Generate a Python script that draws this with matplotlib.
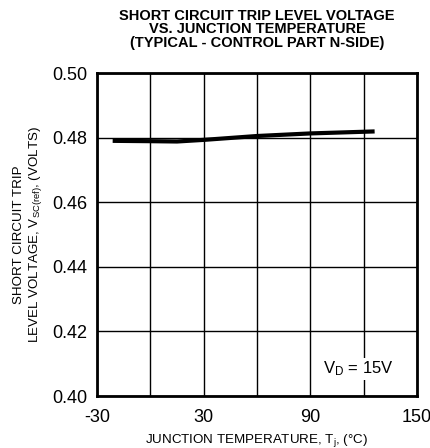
import matplotlib.pyplot as plt

# Données
temp = [-20, 0, 15, 30, 60, 90, 125]
volts = [0.4790, 0.4789, 0.4788, 0.4793, 0.4805, 0.4813, 0.4819]

x_ticks = [-30, 30, 90, 150]
x_grid = [-30, 0, 30, 60, 90, 120, 150]
y_ticks = [0.40, 0.42, 0.44, 0.46, 0.48, 0.50]

plt.rcParams['font.family'] = ['Liberation Sans', 'DejaVu Sans']
plt.rcParams['axes.unicode_minus'] = False

fig = plt.figure(figsize=(4.31, 4.48), dpi=100)
ax = fig.add_axes([0.225, 0.116, 0.7425, 0.721])

# Grille
for gx in x_grid:
    ax.axvline(gx, color='black', linewidth=1.0, zorder=1)
for gy in y_ticks:
    ax.axhline(gy, color='black', linewidth=1.0, zorder=1)

# Courbe
ax.plot(temp, volts, color='black', linewidth=3.0, zorder=3)

ax.set_xlim(-30, 150)
ax.set_ylim(0.40, 0.50)
ax.set_xticks(x_ticks)
ax.set_xticklabels([str(t) for t in x_ticks])
ax.set_yticks(y_ticks)
ax.set_yticklabels([f'{v:.2f}' for v in y_ticks])
ax.tick_params(labelsize=13, length=0)
ax.tick_params(axis='y', pad=7)
ax.tick_params(axis='x', pad=9)
for s in ax.spines.values():
    s.set_linewidth(2)

ax.text(117, 0.4084, '$\\mathregular{V_D}$ = 15V', ha='center', va='center', fontsize=12,
        bbox=dict(facecolor='white', edgecolor='none', pad=1), zorder=4)

ax.set_xlabel('JUNCTION TEMPERATURE, T$_\\mathregular{j}$, (°C)', fontsize=9.6, labelpad=5)
ax.set_ylabel('SHORT CIRCUIT TRIP\nLEVEL VOLTAGE, V$_\\mathregular{SC(ref)}$, (VOLTS)', fontsize=9.6, labelpad=6)

fig.text(0.596, 0.98, 'SHORT CIRCUIT TRIP LEVEL VOLTAGE\nVS. JUNCTION TEMPERATURE\n(TYPICAL - CONTROL PART N-SIDE)',
         ha='center', va='top', fontsize=10.5, fontweight='bold', linespacing=0.95)

plt.savefig('out.png', dpi=100)
